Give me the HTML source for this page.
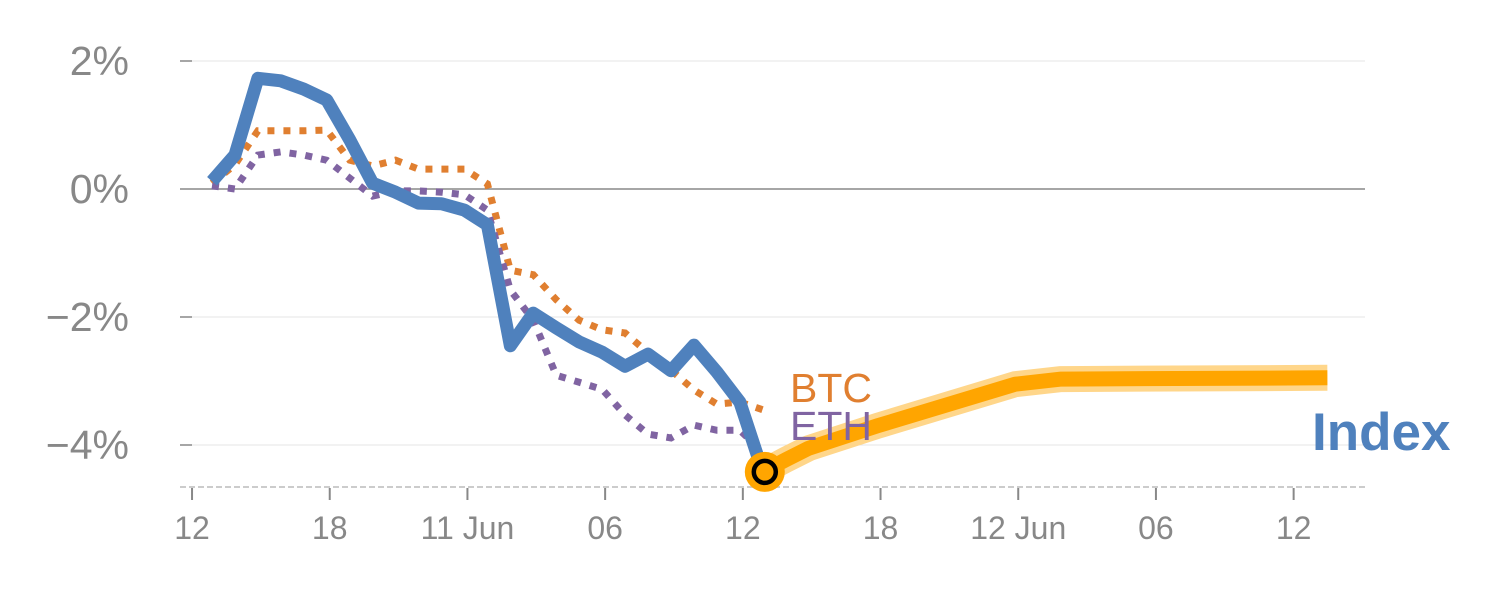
<!DOCTYPE html>
<html><head><meta charset="utf-8"><style>
body{margin:0;background:#fff;}
svg{display:block;font-family:"Liberation Sans",sans-serif;}
</style></head><body>
<svg id="c" width="1500" height="600"></svg>
<script>
const yTicks=[2,0,-2,-4];
const yTickLabels=["2%","0%","\u22122%","\u22124%"];
const xTickIdx=[-0.87,5.13,11.13,17.13,23.13,29.13,35.13,41.13,47.13];
const xTickLabels=["12","18","11 Jun","06","12","18","12 Jun","06","12"];
const indexVals=[0.12,0.53,1.73,1.69,1.56,1.39,0.77,0.09,-0.05,-0.22,-0.23,-0.33,-0.56,-2.45,-1.94,-2.17,-2.39,-2.55,-2.77,-2.58,-2.84,-2.44,-2.86,-3.33,-4.42];
const btcVals=[0.09,0.38,0.91,0.91,0.91,0.92,0.45,0.36,0.45,0.31,0.31,0.31,0.08,-1.27,-1.34,-1.73,-2.05,-2.2,-2.25,-2.56,-2.83,-3.14,-3.36,-3.33,-3.45];
const ethVals=[0.05,0.0,0.53,0.58,0.53,0.45,0.17,-0.11,-0.03,-0.03,-0.05,-0.09,-0.33,-1.58,-2.05,-2.91,-3.02,-3.13,-3.53,-3.83,-3.89,-3.69,-3.77,-3.77,-4.11];
const fcIdx=[24,25,26,29,35,37,48.6];
const fcVals=[-4.42,-4.23,-4.05,-3.7,-3.05,-2.97,-2.95];
const svg=document.getElementById('c');const NS='http://www.w3.org/2000/svg';
const X=i=>212+22.95*i, Y=v=>189-64*v;
function el(t,a,p){const e=document.createElementNS(NS,t);for(const k in a)e.setAttribute(k,a[k]);(p||svg).appendChild(e);return e;}
yTicks.forEach((v,k)=>{
 const g=el('line',{x1:192,x2:1365,y1:Y(v),y2:Y(v),stroke:v===0?'#888':'#e4e4e4','stroke-width':v===0?1.5:1});
 
 
 const tk=el('line',{x1:180,x2:192,y1:Y(v),y2:Y(v),stroke:'#888','stroke-width':1.5});
 
 
 const t=el('text',{x:129,y:Y(v)+14,'text-anchor':'end','font-size':41,fill:'#888'});t.textContent=yTickLabels[k];
 
 
});
const ax=el('line',{x1:180,x2:1365,y1:487,y2:487,stroke:'#ccc','stroke-width':2,'stroke-dasharray':'6 3'});


xTickIdx.forEach((i,k)=>{
 const l=el('line',{x1:X(i),x2:X(i),y1:488,y2:500,stroke:'#888','stroke-width':2});
 
 
 const t=el('text',{x:X(i),y:539,'text-anchor':'middle','font-size':32,fill:'#888'});t.textContent=xTickLabels[k];
 
 
});
const pts=(vals,idx)=>vals.map((v,k)=>X(idx?idx[k]:k)+','+Y(v)).join(' ');
const h=el('polyline',{points:pts(fcVals,fcIdx),fill:'none',stroke:'#ffd68a','stroke-width':26,'stroke-linejoin':'round','stroke-linecap':'butt'});


const f=el('polyline',{points:pts(fcVals,fcIdx),fill:'none',stroke:'#ffa500','stroke-width':15,'stroke-linejoin':'round'});


const b=el('polyline',{points:pts(btcVals),fill:'none',stroke:'#e07f30','stroke-width':7,'stroke-dasharray':'7 9'});


const e=el('polyline',{points:pts(ethVals),fill:'none',stroke:'#8064a2','stroke-width':7,'stroke-dasharray':'7 9'});


const ix=el('polyline',{points:pts(indexVals),fill:'none',stroke:'#4f81bd','stroke-width':13,'stroke-linejoin':'round'});


const last=indexVals.length-1;
const c1=el('circle',{cx:X(last)+2,cy:Y(indexVals[last]),r:20,fill:'#ffa500'});


const c2=el('circle',{cx:X(last)+2,cy:Y(indexVals[last]),r:11,fill:'none',stroke:'#000','stroke-width':4.5});


[['BTC',790,402,'#e07f30',41,'normal','btc-label'],['ETH',790,440,'#8064a2',41,'normal','eth-label'],['Index',1312,450,'#4f81bd',53,'bold','index-label']].forEach(d=>{
 const t=el('text',{x:d[1],y:d[2],fill:d[3],'font-size':d[4],'font-weight':d[5]});t.textContent=d[0];
 
 
});
</script>
</body></html>
